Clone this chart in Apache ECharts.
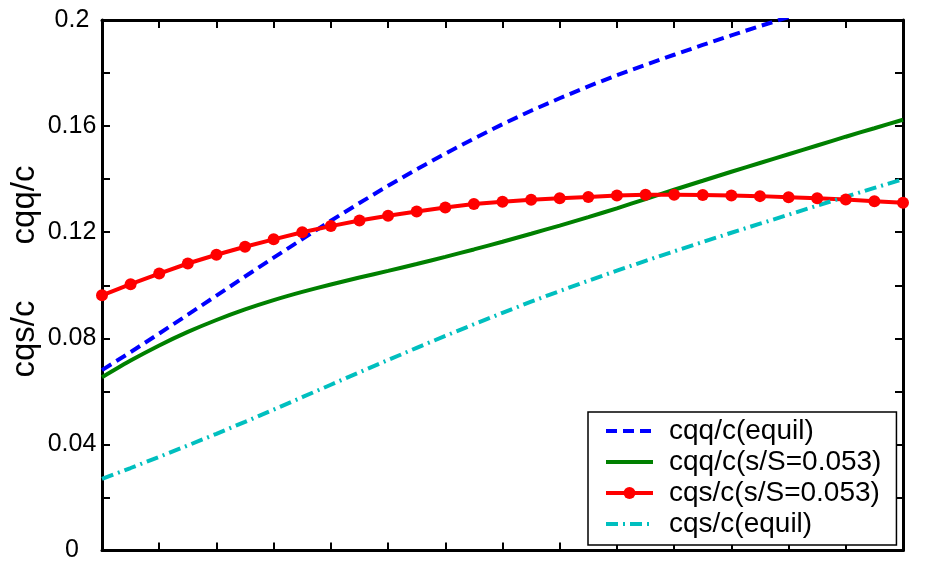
<!DOCTYPE html>
<html>
<head>
<meta charset="utf-8">
<script src="https://cdn.jsdelivr.net/npm/echarts@6/dist/echarts.min.js"></script>
<style>html,body{margin:0;padding:0;background:#fff}#c{width:925px;height:563px}</style>
</head>
<body>
<div id="c"></div>
<script>
// sample positions along the (unlabelled) x axis
const xValues = [0,1,2,3,4,5,6,7,8,9,10,11,12,13,14,15,16,17,18,19,20,21,22,23,24,25,26,27,28];

const cqqEquil = [0.0680,0.0748,0.0818,0.0889,0.0961,0.1033,0.1104,0.1174,0.1243,0.1310,
  0.1375,0.1437,0.1496,0.1553,0.1607,0.1658,0.1705,0.1750,0.1792,0.1831,
  0.1869,0.1906,0.1942,0.1977,0.2011];

const cqqS = [0.0653,0.0716,0.0773,0.0824,0.0869,0.0909,0.0944,0.0975,0.1003,0.1029,
  0.1054,0.1080,0.1107,0.1135,0.1164,0.1194,0.1225,0.1257,0.1290,0.1325,
  0.1360,0.1394,0.1428,0.1461,0.1494,0.1527,0.1560,0.1592,0.1624];

const cqsS = [0.0962,0.1004,0.1044,0.1082,0.1115,0.1145,0.1173,0.1200,0.1223,0.1244,
  0.1262,0.1278,0.1293,0.1306,0.1315,0.1322,0.1328,0.1333,0.1338,0.1341,
  0.1341,0.1340,0.1338,0.1336,0.1332,0.1328,0.1323,0.1317,0.1311];

const cqsEquil = [0.0270,0.0311,0.0353,0.0396,0.0440,0.0485,0.0531,0.0578,0.0625,0.0672,
  0.0718,0.0764,0.0809,0.0853,0.0896,0.0938,0.0978,0.1017,0.1055,0.1092,
  0.1128,0.1163,0.1198,0.1232,0.1266,0.1300,0.1334,0.1367,0.1400];

const seriesNames = ['cqq/c(equil)','cqq/c(s/S=0.053)','cqs/c(s/S=0.053)','cqs/c(equil)'];
const yTickLabels = ['0','0.04','0.08','0.12','0.16','0.2'];
const yAxisTitles = ['cqq/c','cqs/c'];

function pairs(ys){ return ys.map((v,i)=>[xValues[i], v]); }

const FONT = 'Liberation Sans, Arial, Helvetica, sans-serif';
const axisLine = {show:true, onZero:false, lineStyle:{color:'#000', width:3}};
const tick = {show:true, inside:true, length:8, lineStyle:{color:'#000', width:2}};
const hiddenSymbol = {color:'rgba(0,0,0,0)', borderWidth:0, opacity:0};

const chart = echarts.init(document.getElementById('c'), null, {renderer:'canvas'});
chart.setOption({
  animation:false,
  backgroundColor:'#fff',
  grid:{left:102, right:22, top:20, bottom:11, containLabel:false},
  xAxis:[
    {type:'value', min:0, max:28, interval:2, position:'bottom',
     axisLine:axisLine, axisTick:tick, axisLabel:{show:false}, splitLine:{show:false}},
    {type:'value', min:0, max:28, interval:2, position:'top',
     axisLine:axisLine, axisTick:tick, axisLabel:{show:false}, splitLine:{show:false}}
  ],
  yAxis:[
    {type:'value', min:0, max:0.2, interval:0.04, position:'left',
     axisLine:axisLine, axisTick:tick,
     minorTick:{show:true, splitNumber:2, length:8, lineStyle:{color:'#000', width:2}},
     axisLabel:{show:true, color:'#000', fontFamily:FONT, fontSize:25, margin:30, align:'center',
       formatter:function(v){ return yTickLabels[Math.round(v/0.04)]; }},
     splitLine:{show:false}},
    {type:'value', min:0, max:0.2, interval:0.04, position:'right',
     axisLine:axisLine, axisTick:tick,
     minorTick:{show:true, splitNumber:2, length:8, lineStyle:{color:'#000', width:2}},
     axisLabel:{show:false}, splitLine:{show:false}}
  ],
  legend:{
    orient:'vertical', left:588, top:412,
    padding:[5,15,7,16], itemGap:3, itemWidth:47, itemHeight:15,
    backgroundColor:'#fff', borderColor:'#000', borderWidth:1.5, borderRadius:0,
    lineStyle:{width:4},
    textStyle:{color:'#000', fontFamily:FONT, fontSize:28, lineHeight:28, padding:[0,0,0,11]},
    data:[
      {name:seriesNames[0], itemStyle:hiddenSymbol},
      {name:seriesNames[1], itemStyle:hiddenSymbol},
      {name:seriesNames[2]},
      {name:seriesNames[3], itemStyle:hiddenSymbol}
    ]
  },
  graphic:[
    {type:'text', x:25, y:205, rotation:Math.PI/2,
     style:{text:yAxisTitles[0], font:'33px '+FONT, fill:'#000', textAlign:'center', textVerticalAlign:'middle'}},
    {type:'text', x:25, y:339, rotation:Math.PI/2,
     style:{text:yAxisTitles[1], font:'33px '+FONT, fill:'#000', textAlign:'center', textVerticalAlign:'middle'}}
  ],
  series:[
    {name:seriesNames[0], type:'line', data:pairs(cqqEquil), showSymbol:false, symbol:'none', clip:true,
     lineStyle:{color:'#0000ff', width:4, type:[11,6]}, itemStyle:{color:'#0000ff'}},
    {name:seriesNames[1], type:'line', data:pairs(cqqS), showSymbol:false, symbol:'none', smooth:0.2,
     lineStyle:{color:'#008000', width:4}, itemStyle:{color:'#008000'}},
    {name:seriesNames[2], type:'line', data:pairs(cqsS), symbol:'circle', symbolSize:12, showSymbol:true,
     lineStyle:{color:'#ff0000', width:4}, itemStyle:{color:'#ff0000'}},
    {name:seriesNames[3], type:'line', data:pairs(cqsEquil), showSymbol:false, symbol:'none',
     lineStyle:{color:'#00bfbf', width:4, type:[12,5,2,5]}, itemStyle:{color:'#00bfbf'}}
  ]
});
</script>
</body>
</html>
